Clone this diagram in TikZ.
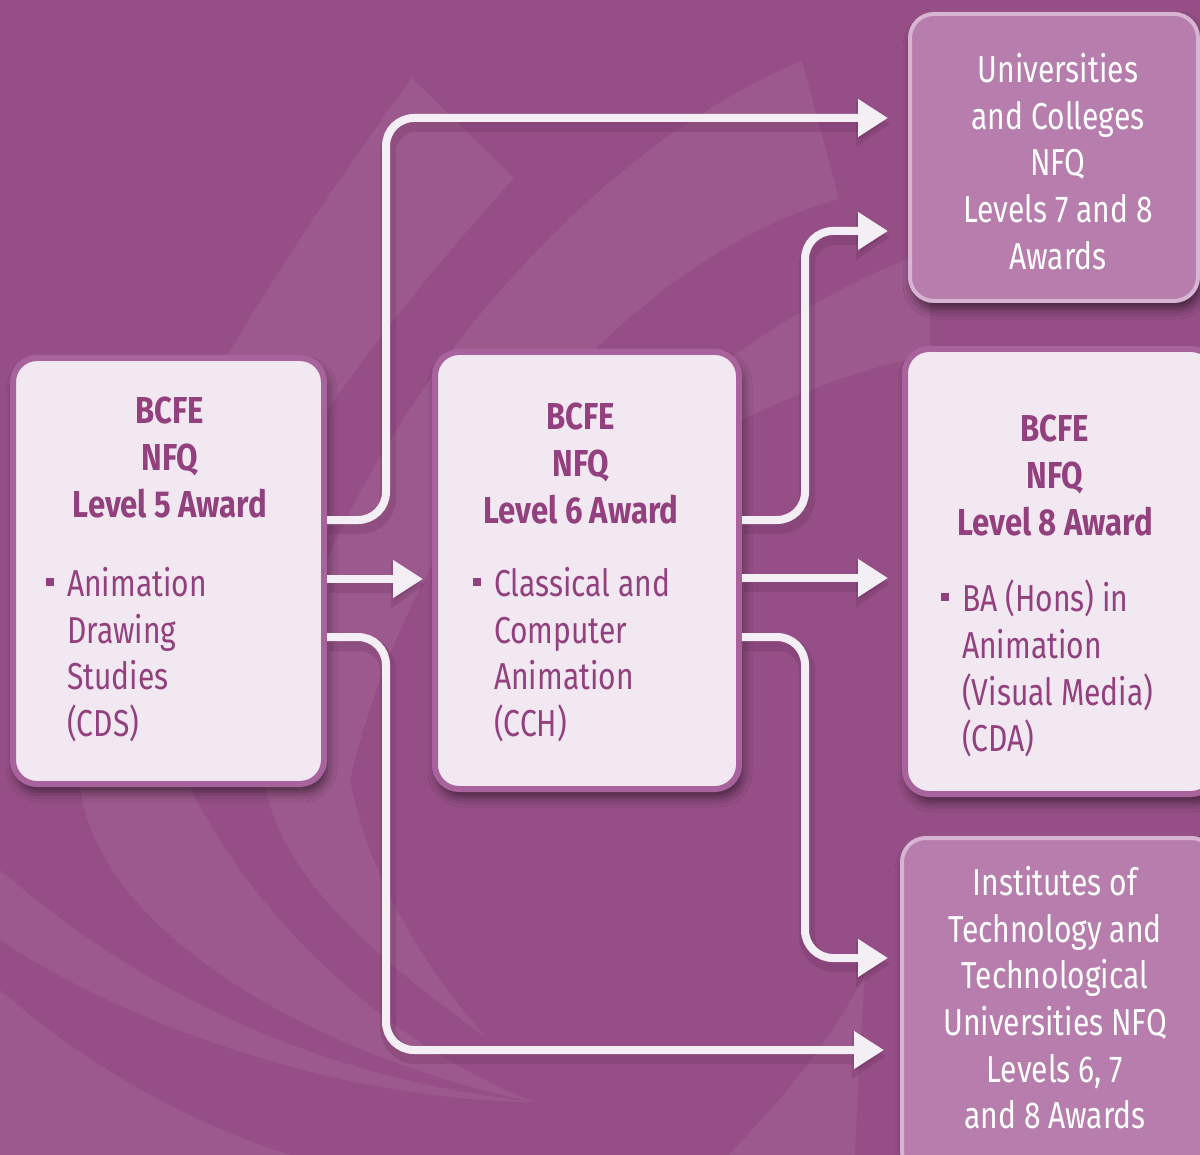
\documentclass[tikz,border=0pt]{standalone}
\usepackage{fontspec}
\setmainfont{Fira Sans}[FakeStretch=0.80]
\newfontfamily\headfam{Fira Sans}[FakeStretch=0.83]
\usetikzlibrary{arrows.meta,shadows.blur,calc}
\definecolor{bgc}{RGB}{150,79,134}
\definecolor{lightfill}{RGB}{242,232,241}
\definecolor{lightborder}{RGB}{168,98,156}
\definecolor{darktxt}{RGB}{146,64,126}
\definecolor{midfill}{RGB}{182,125,173}
\definecolor{midborder}{RGB}{214,180,210}
\definecolor{arrowc}{RGB}{244,239,245}
\definecolor{shadowc}{RGB}{70,25,60}
\newcommand{\sqbul}{\llap{\raisebox{10.5pt}{\rule{8pt}{8pt}}\hspace{13pt}}}
\newcommand{\pathAa}{([yshift=51pt]A.east) -- (386,520) -- (386,118) -- (t1)}
\newcommand{\pathAb}{([yshift=-8pt]A.east) -- (t2)}
\newcommand{\pathAc}{([yshift=-66pt]A.east) -- (386,637) -- (386,1050) -- (t3)}
\newcommand{\pathBa}{([yshift=50.5pt]B.east) -- (805,520) -- (805,231) -- (t4)}
\newcommand{\pathBb}{([yshift=-7.5pt]B.east) -- (t5)}
\newcommand{\pathBc}{([yshift=-66.5pt]B.east) -- (805,637) -- (805,958) -- (t6)}
\tikzset{
  boxshadow/.style={blur shadow={shadow xshift=3pt, shadow yshift=-8pt, shadow blur radius=10pt, shadow opacity=55}},
  lightbox/.style={draw=lightborder, line width=6pt, fill=lightfill, rounded corners=24pt, boxshadow},
  midbox/.style={draw=midborder, line width=4pt, fill=midfill, rounded corners=24pt, boxshadow},
  txt/.style={inner sep=0pt, font=\fontsize{37.5}{46.7}\selectfont},
  headtxt/.style={inner sep=0pt, text=darktxt, align=center, font=\fontsize{37.5}{46.7}\selectfont\headfam\bfseries},
  listtxt/.style={txt, text=darktxt, align=left},
  whitetxt/.style={txt, text=white, align=center},
  conn/.style={draw=arrowc, line width=8pt, rounded corners=28pt, -{Triangle[length=30pt,width=36pt]}},
  connshadow/.style={draw=shadowc, line width=16pt, opacity=0.16, rounded corners=28pt, -{Triangle[length=34pt,width=44pt]}, transform canvas={xshift=2pt,yshift=-6pt}},
  swoosh/.style={fill=white, fill opacity=0.06, draw=none},
}
\begin{document}
\begin{tikzpicture}[x=1pt,y=-1pt]
\useasboundingbox (0,0) rectangle (1200,1155);
\clip (0,0) rectangle (1200,1155);
\fill[bgc] (0,0) rectangle (1200,1155);
% background swooshes
\fill[swoosh] (412,78) -- (514,178) .. controls (330,380) and (150,640) .. (190,787) .. controls (260,930) and (400,1050) .. (534,1102) .. controls (330,1060) and (100,940) .. (80,787) .. controls (60,600) and (250,300) .. (412,78) -- cycle;
\fill[swoosh] (802,61) -- (839,199) .. controls (650,250) and (420,480) .. (350,780) .. controls (370,880) and (420,960) .. (485,1037) .. controls (380,960) and (280,880) .. (264,780) .. controls (300,480) and (560,160) .. (802,61) -- cycle;
\fill[swoosh] (0,870) .. controls (150,1000) and (330,1080) .. (534,1102) .. controls (330,1100) and (120,1020) .. (0,940) -- cycle;
\fill[swoosh] (0,990) .. controls (80,1060) and (180,1120) .. (290,1155) -- (0,1155) -- cycle;
\fill[swoosh] (865,975) .. controls (820,1060) and (770,1110) .. (729,1155) -- (855,1155) .. controls (858,1080) and (862,1020) .. (865,975) -- cycle;
\fill[swoosh] (930,250) .. controls (850,280) and (780,320) .. (700,380) -- (700,440) .. controls (780,400) and (850,370) .. (930,355) -- cycle;
% boxes
\node[lightbox, minimum width=311pt, minimum height=426pt] (A) at (168.5,571) {};
\node[lightbox, minimum width=304pt, minimum height=437pt] (B) at (587,570.5) {};
\node[lightbox, minimum width=310pt, minimum height=445pt] (C) at (1060,571.5) {};
\node[midbox, minimum width=288pt, minimum height=287pt] (D) at (1054,157.5) {};
\node[midbox, minimum width=313pt, minimum height=337pt] (E) at (1058.5,1006.5) {};
% texts
\node[headtxt, anchor=north] (Ah) at (170,397) {BCFE\\NFQ\\Level 5 Award};
\node[listtxt, anchor=north west] (Al) at (67,567) {\sqbul Animation\\Drawing\\Studies\\(CDS)};
\node[headtxt, anchor=north] (Bh) at (581,403) {BCFE\\NFQ\\Level 6 Award};
\node[listtxt, anchor=north west] (Bl) at (494,567) {\sqbul Classical and\\Computer\\Animation\\(CCH)};
\node[headtxt, anchor=north] (Ch) at (1055,415) {BCFE\\NFQ\\Level 8 Award};
\node[listtxt, anchor=north west] (Cl) at (962,580) {\sqbul BA (Hons) in\\Animation\\(Visual Media)\\(CDA)};
\node[whitetxt, anchor=north] (Dt) at (1058,53) {Universities\\and Colleges\\NFQ\\Levels 7 and 8\\Awards};
\node[whitetxt, anchor=north] (Et) at (1055,866) {Institutes of\\Technology and\\Technological\\Universities NFQ\\Levels 6, 7\\and 8 Awards};
% connector ends
\coordinate (t1) at (888,118);
\coordinate (t2) at (423,579);
\coordinate (t3) at (884,1050);
\coordinate (t4) at (888,231);
\coordinate (t5) at (888,578);
\coordinate (t6) at (888,958);
% connector shadows
\draw[connshadow] \pathAa;
\draw[connshadow] \pathAb;
\draw[connshadow] \pathAc;
\draw[connshadow] \pathBa;
\draw[connshadow] \pathBb;
\draw[connshadow] \pathBc;
% connectors
\draw[conn] \pathAa;
\draw[conn] \pathAb;
\draw[conn] \pathAc;
\draw[conn] \pathBa;
\draw[conn] \pathBb;
\draw[conn] \pathBc;
\end{tikzpicture}
\end{document}
